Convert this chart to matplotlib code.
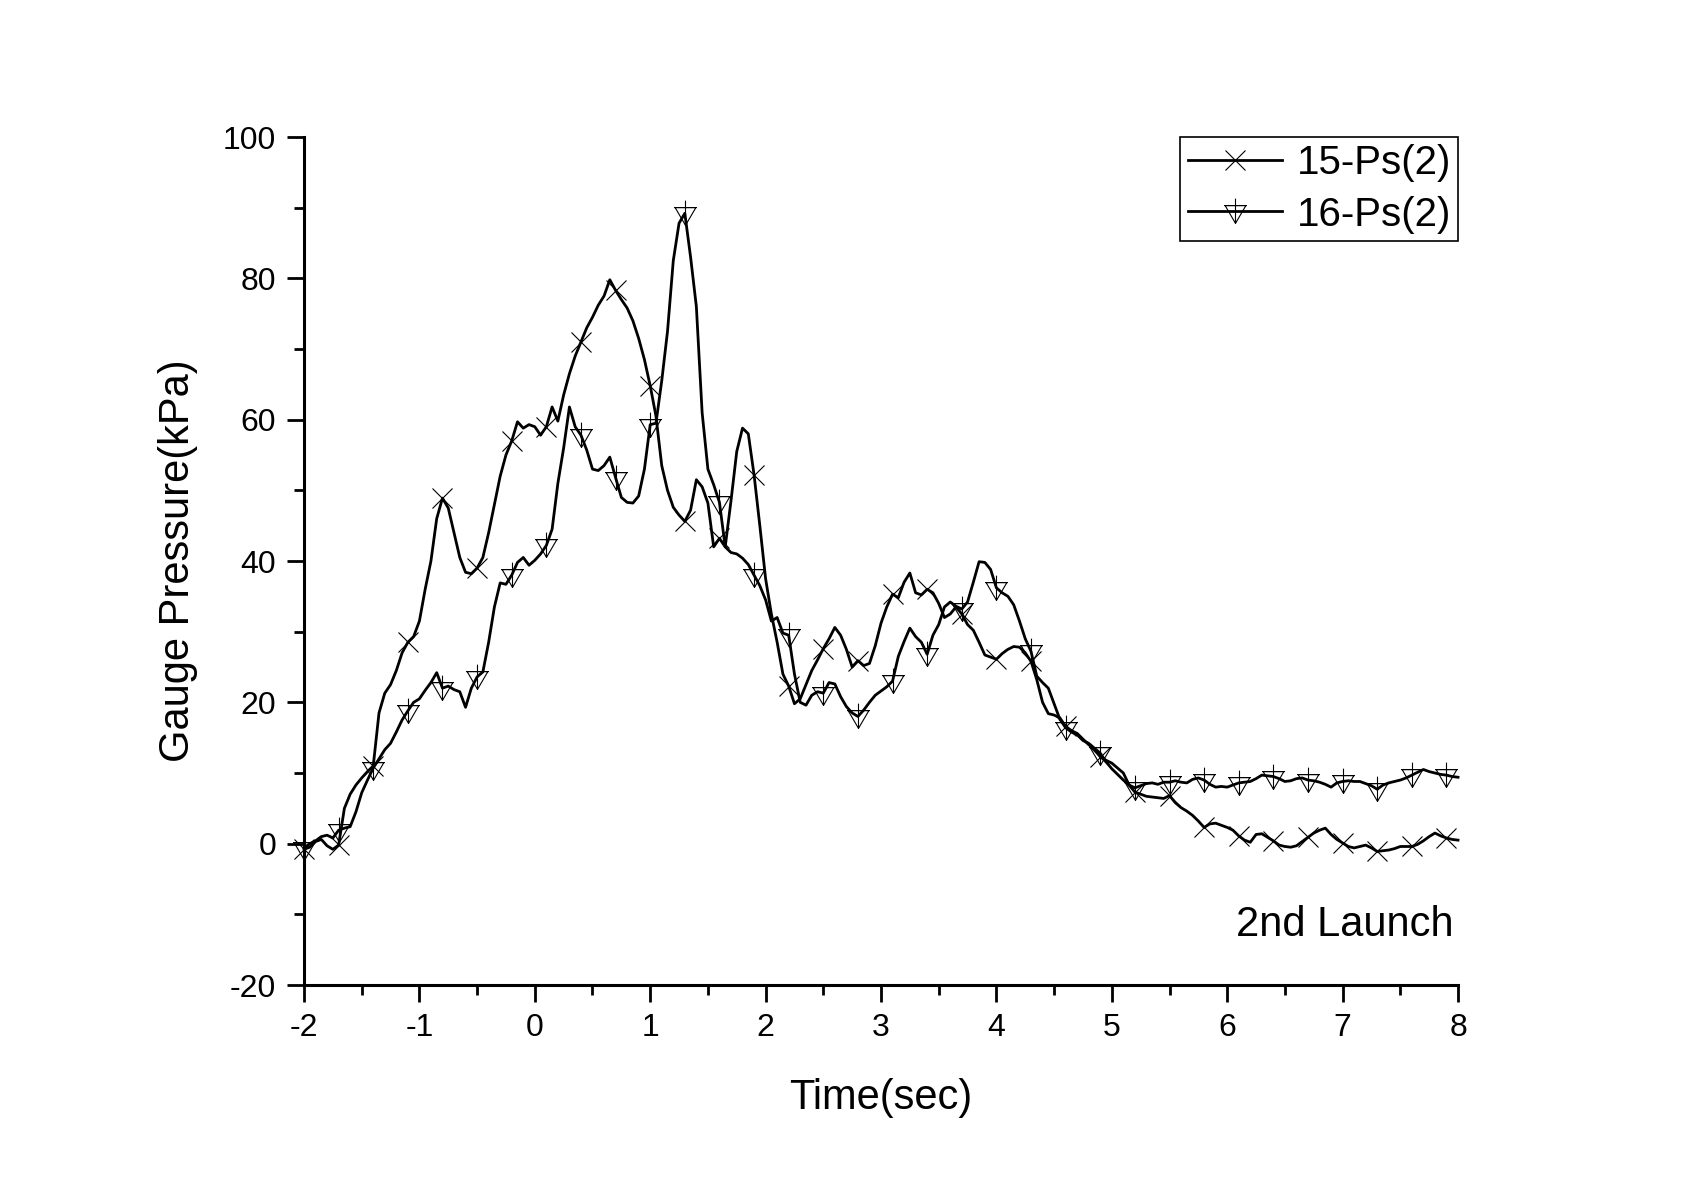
"""Gauge pressure traces, 2nd launch (sensors 15-Ps and 16-Ps)."""
import numpy as np
import matplotlib
matplotlib.use("Agg")
import matplotlib.pyplot as plt
from matplotlib.path import Path
from matplotlib.ticker import MultipleLocator

# sample times (s), 0.05 s step, shared by both gauges
TIME = np.round(np.arange(-2.0, 8.0001, 0.05), 2)

# 15-Ps(2), kPa
P15 = [
    -0.8, -0.5, 0.3, 0.6, -0.3, -0.8, -0.2, 5.0, 7.0, 8.3,
    9.3, 10.2, 11.0, 18.5, 21.3, 22.5, 24.5, 27.0, 28.5, 29.3,
    31.5, 36.0, 40.0, 46.0, 48.9, 47.5, 44.0, 40.5, 38.4, 38.2,
    39.0, 40.5, 44.0, 48.0, 52.0, 55.0, 57.0, 59.7, 58.8, 59.3,
    59.0, 57.8, 59.0, 61.8, 59.8, 63.5, 66.5, 69.0, 71.0, 73.0,
    74.5, 76.2, 77.5, 79.8, 78.3, 77.0, 75.8, 74.0, 71.5, 68.5,
    64.8, 60.5, 53.5, 50.0, 47.6, 46.5, 45.6, 47.2, 51.5, 50.5,
    48.2, 42.0, 43.2, 42.0, 48.5, 55.5, 58.8, 58.0, 52.2, 45.0,
    37.5, 32.5, 28.5, 24.0, 22.3, 19.8, 20.5, 22.5, 24.5, 26.0,
    27.6, 29.0, 30.6, 29.5, 27.5, 25.0, 25.9, 25.2, 25.5, 28.0,
    31.2, 33.5, 35.3, 34.8, 37.0, 38.3, 35.5, 35.2, 36.0, 35.5,
    34.0, 32.0, 32.5, 33.5, 32.5, 31.0, 30.2, 28.5, 26.7, 26.4,
    26.1, 26.9, 27.5, 27.9, 27.8, 27.0, 25.8, 23.2, 20.0, 18.4,
    18.2, 17.8, 16.6, 16.0, 15.6, 14.8, 14.0, 13.4, 12.3, 11.8,
    11.4, 10.7, 10.0, 8.3, 7.3, 7.0, 6.7, 6.6, 6.5, 6.4,
    6.8, 5.8, 5.1, 4.6, 4.0, 3.2, 2.3, 2.8, 2.9, 2.6,
    2.3, 1.9, 1.1, 0.5, 0.2, 1.3, 1.4, 0.9, 0.4, -0.2,
    -0.4, -0.5, -0.3, 0.3, 0.9, 1.5, 1.9, 2.2, 1.3, 0.6,
    0.1, -0.4, -0.6, -0.4, -0.2, -0.6, -1.1, -1.0, -0.9, -0.7,
    -0.4, -0.4, -0.4, -0.1, 0.4, 1.0, 1.5, 1.1, 0.8, 0.6,
    0.5,
]

# 16-Ps(2), kPa
P16 = [
    -0.6, 0.0, 0.4, 1.0, 1.2, 0.8, 1.9, 2.2, 2.4, 4.5,
    7.2, 9.0, 10.7, 12.0, 13.3, 14.2, 15.8, 17.5, 18.8, 20.0,
    20.5, 21.7, 22.8, 24.2, 22.0, 22.3, 21.8, 21.5, 19.3, 22.0,
    23.6, 24.3, 28.5, 33.5, 36.9, 36.7, 38.0, 39.8, 40.5, 39.4,
    40.1, 41.0, 42.2, 44.5, 51.0, 56.0, 61.8, 59.0, 57.8, 55.7,
    53.0, 52.8, 53.5, 54.7, 51.8, 49.0, 48.3, 48.2, 49.2, 53.0,
    59.3, 59.5, 65.5, 72.5, 82.5, 87.8, 89.2, 83.0, 76.0, 61.0,
    53.0, 50.8, 48.3, 42.0, 41.2, 41.0, 40.4, 39.5, 38.0, 36.5,
    34.5, 31.5, 32.0, 29.8, 29.5, 24.0, 20.0, 19.6, 21.0, 21.5,
    21.3, 22.8, 22.6, 20.8, 19.4, 18.5, 18.0, 18.9, 20.0, 21.0,
    21.6, 22.2, 23.0, 26.5, 28.6, 30.5, 29.3, 28.5, 26.8, 29.5,
    31.0, 33.5, 34.2, 33.6, 33.2, 34.2, 37.0, 39.9, 39.8, 38.8,
    36.2, 35.5, 35.0, 33.8, 31.5, 29.0, 27.2, 23.7, 22.8, 22.0,
    19.8, 17.6, 16.4, 15.8, 15.4, 14.6, 14.2, 13.5, 12.8, 11.6,
    10.6, 9.8, 9.0, 8.3, 7.9, 8.2, 8.5, 8.6, 8.4, 8.7,
    8.7, 8.9, 8.7, 8.6, 9.1, 9.3, 9.0, 8.4, 8.0, 8.1,
    8.0, 8.3, 8.6, 8.7, 8.8, 9.2, 9.7, 9.6, 9.5, 9.2,
    8.8, 8.9, 9.2, 9.3, 9.0, 8.9, 8.7, 8.4, 8.0, 8.6,
    8.8, 8.9, 8.8, 8.8, 8.5, 8.2, 7.7, 8.3, 8.6, 8.8,
    9.0, 9.3, 9.7, 10.1, 10.5, 10.2, 10.0, 9.8, 9.7, 9.5,
    9.4,
]

LABELS = ["15-Ps(2)", "16-Ps(2)"]
X_TICKS = [-2, -1, 0, 1, 2, 3, 4, 5, 6, 7, 8]
Y_TICKS = [-20, 0, 20, 40, 60, 80, 100]

plt.rcParams.update({
    "font.family": "Liberation Sans",
    "font.size": 23,
    "axes.unicode_minus": False,
})

# Origin-style "down triangle with cross" symbol
TRI_CROSS = Path(
    [(-10.5, 6), (10.5, 6), (0, -12), (-10.5, 6),
     (0, 13), (0, -12),
     (-11.5, 6), (11.5, 6)],
    [Path.MOVETO, Path.LINETO, Path.LINETO, Path.CLOSEPOLY,
     Path.MOVETO, Path.LINETO,
     Path.MOVETO, Path.LINETO],
)

fig = plt.figure(figsize=(16.95, 11.83), dpi=100)
ax = fig.add_axes([0.17935, 0.16737, 0.68083, 0.71682])

every = slice(0, None, 6)  # one symbol each 0.3 s
ax.plot(TIME, P15, color="black", lw=2.0, marker="x", markersize=14.5,
        markeredgewidth=0.8, markevery=every, label=LABELS[0], clip_on=False)
ax.plot(TIME, P16, color="black", lw=2.0, marker=TRI_CROSS, markersize=18.5,
        markeredgewidth=0.8, markerfacecolor="none", markevery=every,
        label=LABELS[1], clip_on=False)

ax.set_xlim(-2, 8)
ax.set_ylim(-20, 100)
ax.set_xticks(X_TICKS)
ax.set_yticks(Y_TICKS)
ax.xaxis.set_minor_locator(MultipleLocator(0.5))
ax.yaxis.set_minor_locator(MultipleLocator(10))
ax.tick_params(which="major", direction="out", length=12, width=2, pad=8, labelsize=23)
ax.tick_params(which="minor", direction="out", length=7, width=2)

for side in ("top", "right"):
    ax.spines[side].set_visible(False)
for side in ("left", "bottom"):
    ax.spines[side].set_linewidth(2.2)

ax.set_xlabel("Time(sec)", fontsize=30, labelpad=25)
ax.set_ylabel("Gauge Pressure(kPa)", fontsize=30, labelpad=18)

ax.text(0.9965, 0.071, "2nd Launch", transform=ax.transAxes,
        ha="right", va="center", fontsize=30)

leg = ax.legend(loc="upper right", bbox_to_anchor=(1.0, 1.0), borderaxespad=0,
                fontsize=29, frameon=True, fancybox=False, framealpha=1,
                edgecolor="black", handlelength=2.35, handletextpad=0.35,
                labelspacing=0.33, borderpad=0.18, numpoints=1)
leg.get_frame().set_linewidth(1.2)

fig.savefig("out.png", dpi=100)
